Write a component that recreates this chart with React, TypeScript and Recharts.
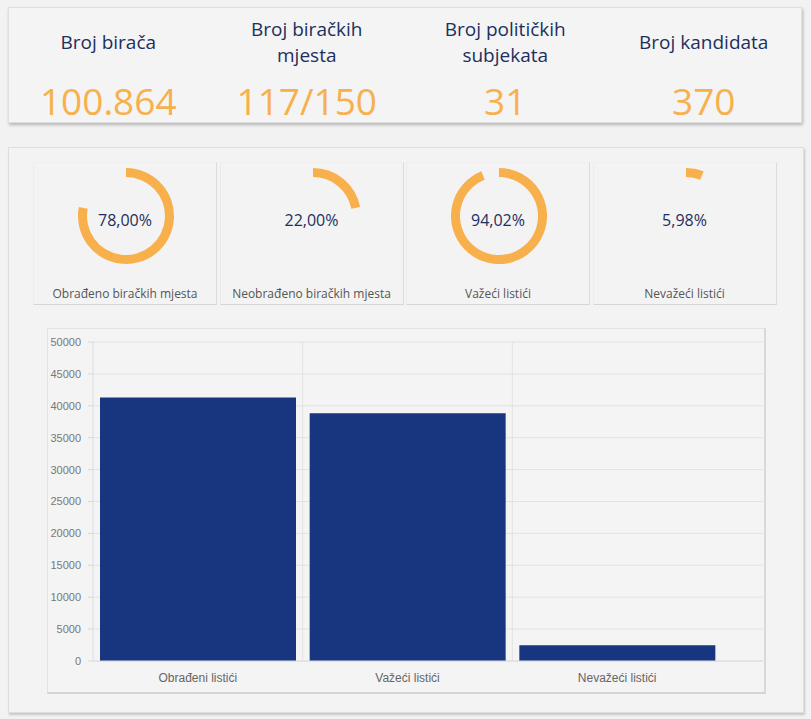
import { PieChart, Pie, Cell, BarChart, Bar, XAxis, YAxis, CartesianGrid } from 'recharts';

const statTitles = [['Broj birača'], ['Broj biračkih', 'mjesta'], ['Broj političkih', 'subjekata'], ['Broj kandidata']];
const statValues = ['100.864', '117/150', '31', '370'];

const donutLabels = ['Obrađeno biračkih mjesta', 'Neobrađeno biračkih mjesta', 'Važeći listići', 'Nevažeći listići'];
const donutPercents = [78.0, 22.0, 94.02, 5.98];

const barCategories = ['Obrađeni listići', 'Važeći listići', 'Nevažeći listići'];
const barValues = [41300, 38830, 2470];
const yTicks = [0, 5000, 10000, 15000, 20000, 25000, 30000, 35000, 40000, 45000, 50000];

const ORANGE = '#f7b04c';
const NAVY = '#1c2f5e';
const BAR = '#18357f';
const X_PAD_RIGHT = 41;

const barData = barCategories.map((name, i) => ({ name, value: barValues[i] }));

const fmtPct = (v: number) => v.toFixed(2).replace('.', ',') + '%';

// vertical grid lines sit on the category boundaries, not on the tick centers
const categoryBoundaries = (props: any) => {
    const s = props?.xAxis?.scale;
    if (typeof s === 'function') {
        return barCategories.slice(1).map((c) => s(c));
    }
    const off = props?.offset;
    if (!off) return [];
    const band = (off.width - X_PAD_RIGHT) / barCategories.length;
    return barCategories.slice(1).map((_, i) => off.left + band * (i + 1));
};

const Donut = ({ pct, label, left }: { pct: number; label: string; left: number }) => {
    const data = [
        { name: 'value', value: pct },
        { name: 'rest', value: 100 - pct },
    ];
    return (
        <div
            style={{
                position: 'absolute',
                left,
                top: 14,
                width: 184,
                height: 143,
                borderRight: '1px solid #dcdcdc',
                borderBottom: '1px solid #d6d6d6',
                borderLeft: '1px solid #ececec',
                borderTop: '1px solid #efefef',
                boxSizing: 'border-box',
            }}
        >
            <PieChart width={182} height={112}>
                <Pie
                    data={data}
                    dataKey="value"
                    cx={87}
                    cy={48}
                    innerRadius={39}
                    outerRadius={48}
                    startAngle={90}
                    endAngle={-270}
                    stroke="none"
                    isAnimationActive={false}
                >
                    <Cell fill={ORANGE} />
                    <Cell fill="transparent" />
                </Pie>
            </PieChart>
            <div
                style={{
                    position: 'absolute',
                    left: 0,
                    width: 182,
                    top: 46,
                    textAlign: 'center',
                    fontSize: 16,
                    color: NAVY,
                    fontFamily: '"Open Sans", sans-serif',
                }}
            >
                {fmtPct(pct)}
            </div>
            <div
                style={{
                    position: 'absolute',
                    left: 0,
                    width: 182,
                    top: 122,
                    textAlign: 'center',
                    fontSize: 12,
                    color: '#555',
                    fontFamily: '"Open Sans", sans-serif',
                }}
            >
                {label}
            </div>
        </div>
    );
};

const App = () => {
    return (
        <div
            style={{
                position: 'absolute',
                left: 0,
                top: 0,
                width: 811,
                height: 719,
                background: '#f2f2f2',
                overflow: 'hidden',
            }}
        >
            {/* top stats */}
            <div
                style={{
                    position: 'absolute',
                    left: 8,
                    top: 7,
                    width: 794,
                    height: 116,
                    background: '#f4f4f4',
                    border: '1px solid #e0e0e0',
                    boxShadow: '1px 2px 3px rgba(0,0,0,0.25)',
                    boxSizing: 'border-box',
                    fontFamily: '"Open Sans", sans-serif',
                }}
            >
                {statTitles.map((lines, i) => (
                    <div key={i} style={{ position: 'absolute', left: i * 198.5, width: 198.5, top: 0, height: 116 }}>
                        <div
                            style={{
                                position: 'absolute',
                                left: 0,
                                right: 0,
                                top: lines.length === 1 ? 21 : 8,
                                textAlign: 'center',
                                fontSize: 19,
                                lineHeight: '26px',
                                color: NAVY,
                            }}
                        >
                            {lines.map((l, j) => (
                                <div key={j}>{l}</div>
                            ))}
                        </div>
                        <div
                            style={{
                                position: 'absolute',
                                left: 0,
                                right: 0,
                                top: 68,
                                textAlign: 'center',
                                fontSize: 37,
                                lineHeight: '50px',
                                color: ORANGE,
                            }}
                        >
                            {statValues[i]}
                        </div>
                    </div>
                ))}
            </div>

            {/* lower panel */}
            <div
                style={{
                    position: 'absolute',
                    left: 8,
                    top: 147,
                    width: 796,
                    height: 566,
                    background: '#f3f3f3',
                    border: '1px solid #dedede',
                    boxShadow: '1px 2px 2px rgba(0,0,0,0.18)',
                    boxSizing: 'border-box',
                }}
            >
                {donutPercents.map((p, i) => (
                    <Donut key={i} pct={p} label={donutLabels[i]} left={24 + i * 186.5} />
                ))}

                <div
                    style={{
                        position: 'absolute',
                        left: 38,
                        top: 180,
                        width: 719,
                        height: 366,
                        background: '#f4f4f4',
                        border: '1px solid #e2e2e2',
                        borderBottom: '2px solid #d4d4d4',
                        borderRight: '2px solid #d8d8d8',
                        boxSizing: 'border-box',
                    }}
                >
                    <BarChart
                        width={716}
                        height={362}
                        data={barData}
                        margin={{ top: 13, right: 1, bottom: 0, left: 0 }}
                        barCategoryGap={7}
                        style={{ fontFamily: '"Liberation Sans", Arial, sans-serif' }}
                    >
                        <CartesianGrid stroke="#e2e2e2" verticalCoordinatesGenerator={categoryBoundaries} />
                        <XAxis
                            dataKey="name"
                            padding={{ left: 0, right: X_PAD_RIGHT }}
                            tickLine={false}
                            axisLine={{ stroke: '#dcdcdc' }}
                            tick={{ fill: '#666', fontSize: 12 }}
                            tickMargin={6}
                            height={30}
                        />
                        <YAxis
                            domain={[0, 50000]}
                            ticks={yTicks}
                            interval={0}
                            width={45}
                            tickSize={5}
                            tickMargin={7}
                            tickLine={{ stroke: '#d8d8d8' }}
                            axisLine={{ stroke: '#dcdcdc' }}
                            tick={{ fill: '#777', fontSize: 11 }}
                        />
                        <Bar dataKey="value" fill={BAR} isAnimationActive={false} />
                    </BarChart>
                </div>
            </div>
        </div>
    );
};

export default App;
